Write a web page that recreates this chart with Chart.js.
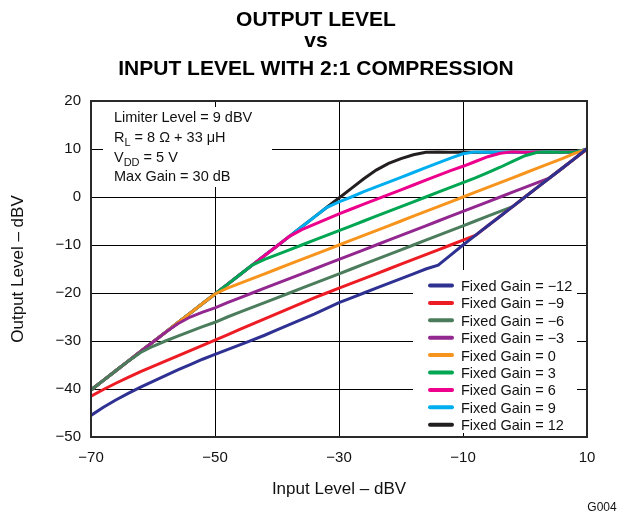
<!DOCTYPE html>
<html>
<head>
<meta charset="utf-8">
<script src="https://cdn.jsdelivr.net/npm/chart.js@4.4.1/dist/chart.umd.min.js"></script>
<style>
	html, body { margin: 0; padding: 0; background: #fff; }
	#divCanvas { width: 627px; height: 513px; }
</style>
</head>
<body>
<div id="divCanvas"><canvas id="graficoSaida" width="627" height="513"></canvas></div>
<script>
// eixo x (dBV de entrada), um ponto a cada 2 dB
var inputLevel = [-70, -68, -66, -64, -62, -60, -58, -56, -54, -52, -50, -48, -46, -44, -42, -40, -38, -36, -34, -32, -30,
	-28, -26, -24, -22, -20, -18, -16, -14, -12, -10, -8, -6, -4, -2, 0, 2, 4, 6, 8, 10];

// saida (dBV) por ganho fixo
var outGainM12 = [-45.5, -43.8, -42.3, -40.9, -39.6, -38.4, -37.2, -36.0, -34.9, -33.8, -32.8, -31.8, -30.8, -29.8, -28.8, -27.7, -26.6, -25.5, -24.4, -23.2, -22.0,
	-21.0, -20.0, -19.0, -18.0, -17.0, -16.0, -15.0, -14.2, -12.1, -10.0, -8.0, -6.0, -4.0, -2.0, 0.0, 2.0, 4.0, 6.0, 8.0, 10.1];
var outGainM9 = [-41.5, -40.1, -38.8, -37.6, -36.4, -35.3, -34.2, -33.1, -32.0, -30.9, -29.8, -28.7, -27.6, -26.5, -25.4, -24.3, -23.2, -22.1, -21.0, -20.0, -19.0,
	-18.0, -17.0, -16.0, -15.0, -14.0, -13.0, -12.0, -11.0, -10.0, -9.0, -8.0, -6.0, -4.0, -2.0, 0.0, 2.0, 4.0, 6.0, 8.0, 10.0];
var outGainM6 = [-40.2, -38.2, -36.2, -34.2, -32.4, -31.1, -30.0, -29.0, -28.0, -27.0, -26.1, -25.0, -24.0, -23.0, -22.0, -21.0, -20.0, -19.0, -18.0, -17.0, -16.0,
	-15.0, -14.0, -13.0, -12.0, -11.0, -10.0, -9.0, -8.0, -7.0, -6.0, -5.0, -4.0, -3.0, -2.0, 0.0, 2.0, 4.0, 6.0, 8.0, 10.0];
var outGainM3 = [-40.2, -38.2, -36.2, -34.2, -32.2, -30.2, -28.2, -26.4, -25.0, -24.0, -23.1, -22.0, -21.0, -20.0, -19.0, -18.0, -17.0, -16.0, -15.0, -14.0, -13.0,
	-12.0, -11.0, -10.0, -9.0, -8.0, -7.0, -6.0, -5.0, -4.0, -3.0, -2.0, -1.0, 0.0, 1.0, 2.0, 3.0, 4.0, 6.0, 8.0, 10.0];
var outGain0 = [-40.2, -38.2, -36.2, -34.2, -32.2, -30.2, -28.2, -26.2, -24.2, -22.2, -20.2, -19.0, -18.0, -17.0, -16.0, -15.0, -14.0, -13.0, -12.0, -11.0, -10.0,
	-9.0, -8.0, -7.0, -6.0, -5.0, -4.0, -3.0, -2.0, -1.0, 0.0, 1.0, 2.0, 3.0, 4.0, 5.0, 6.0, 7.0, 8.0, 9.1, 9.9];
var outGain3 = [-40.2, -38.2, -36.2, -34.2, -32.2, -30.2, -28.2, -26.2, -24.2, -22.2, -20.2, -18.2, -16.2, -14.2, -13.0, -12.0, -11.0, -10.0, -9.0, -8.0, -7.0,
	-6.0, -5.0, -4.0, -3.0, -2.0, -1.0, 0.0, 1.0, 2.0, 3.0, 4.0, 5.1, 6.2, 7.4, 8.6, 9.3, 9.4, 9.3, 9.4, 9.9];
var outGain6 = [-40.2, -38.2, -36.2, -34.2, -32.2, -30.2, -28.2, -26.2, -24.2, -22.2, -20.2, -18.2, -16.2, -14.2, -12.2, -10.2, -8.2, -6.8, -5.7, -4.6, -3.5,
	-2.5, -1.5, -0.5, 0.5, 1.5, 2.5, 3.5, 4.5, 5.5, 6.4, 7.4, 8.4, 9.1, 9.4, 9.3, 9.4, 9.3, 9.4, 9.4, 9.9];
var outGain9 = [-40.2, -38.2, -36.2, -34.2, -32.2, -30.2, -28.2, -26.2, -24.2, -22.2, -20.2, -18.2, -16.2, -14.2, -12.2, -10.2, -8.2, -6.2, -4.2, -2.2, -1.0,
	0.0, 1.1, 2.1, 3.1, 4.1, 5.1, 6.1, 7.1, 8.1, 9.0, 9.4, 9.3, 9.4, 9.3, 9.4, 9.3, 9.4, 9.3, 9.4, 9.9];
var outGain12 = [-40.2, -38.2, -36.2, -34.2, -32.2, -30.2, -28.2, -26.2, -24.2, -22.2, -20.2, -18.2, -16.2, -14.2, -12.2, -10.2, -8.2, -6.2, -4.2, -2.2, -0.2,
	1.8, 3.8, 5.6, 7.0, 8.0, 8.8, 9.3, 9.4, 9.3, 9.4, 9.3, 9.4, 9.3, 9.4, 9.3, 9.4, 9.3, 9.4, 9.4, 9.9];

var gainLabels = ["Fixed Gain = \u221212", "Fixed Gain = \u22129", "Fixed Gain = \u22126", "Fixed Gain = \u22123", "Fixed Gain = 0",
	"Fixed Gain = 3", "Fixed Gain = 6", "Fixed Gain = 9", "Fixed Gain = 12"];
var gainSeries = [outGainM12, outGainM9, outGainM6, outGainM3, outGain0, outGain3, outGain6, outGain9, outGain12];
var gainColors = ["#2e3192", "#ed1c24", "#4b7d5c", "#92278f", "#f7941d", "#00a651", "#ec008c", "#00aeef", "#231f20"];

var xTicks = [-70, -50, -30, -10, 10];
var yTicks = [-50, -40, -30, -20, -10, 0, 10, 20];

var notas = ["Limiter Level = 9 dBV", "R|L| = 8 \u03A9 + 33 \u03BCH", "V|DD| = 5 V", "Max Gain = 30 dB"];
var titulo = ["OUTPUT LEVEL", "vs", "INPUT LEVEL WITH 2:1 COMPRESSION"];

var FONTE = "'Liberation Sans', Arial, Helvetica, sans-serif";

function menos(v) {
	return v < 0 ? "\u2212" + Math.abs(v) : "" + v;
}

function montaPontos(saida) {
	var pts = [];
	for (var i = 0; i < inputLevel.length; i++) {
		pts.push({ x: inputLevel[i], y: saida[i] });
	}
	return pts;
}

var conjuntos = [];
for (var k = 0; k < gainSeries.length; k++) {
	conjuntos.push({
		label: gainLabels[k],
		data: montaPontos(gainSeries[k]),
		borderColor: gainColors[k],
		backgroundColor: gainColors[k],
		borderWidth: 3,
		pointRadius: 0,
		tension: 0,
		fill: false
	});
}

// texto com indice: "R|L| = ..." -> R com L subscrito
function textoIndice(ctx, txt, x, y) {
	var partes = txt.split("|");
	for (var i = 0; i < partes.length; i++) {
		if (i % 2 == 1) {
			ctx.font = "11px " + FONTE;
			ctx.fillText(partes[i], x, y + 4);
		} else {
			ctx.font = "14.5px " + FONTE;
			ctx.fillText(partes[i], x, y);
		}
		x += ctx.measureText(partes[i]).width;
	}
}

var decoracao = {
	id: "decoracao",
	beforeDatasetsDraw: function (chart) {
		var ctx = chart.ctx, ca = chart.chartArea;
		ctx.save();
		ctx.fillStyle = "#fff";
		// caixa das notas e caixa da legenda cobrem a grade
		ctx.fillRect(ca.left + 12, ca.top + 6, 169, 80);
		ctx.fillRect(ca.left + 322, ca.top + 169, 164, 163);
		ctx.restore();
	},
	afterDatasetsDraw: function (chart) {
		var ctx = chart.ctx, ca = chart.chartArea;
		ctx.save();
		ctx.strokeStyle = "#2a2a2a";
		ctx.lineWidth = 2;
		ctx.strokeRect(ca.left, ca.top, ca.right - ca.left, ca.bottom - ca.top);

		ctx.fillStyle = "#111";
		ctx.textBaseline = "alphabetic";
		ctx.textAlign = "left";
		var linhasY = [21, 41, 61, 80];
		for (var i = 0; i < notas.length; i++) {
			textoIndice(ctx, notas[i], ca.left + 23, ca.top + linhasY[i]);
		}

		// legenda
		var ds = chart.data.datasets;
		ctx.lineCap = "round";
		for (var j = 0; j < ds.length; j++) {
			var yy = ca.top + 184.5 + j * 17.4;
			ctx.strokeStyle = ds[j].borderColor;
			ctx.lineWidth = 4;
			ctx.beginPath();
			ctx.moveTo(ca.left + 339, yy);
			ctx.lineTo(ca.left + 361, yy);
			ctx.stroke();
			ctx.fillStyle = "#111";
			ctx.font = "14.5px " + FONTE;
			ctx.fillText(ds[j].label, ca.left + 370, yy + 5.5);
		}
		ctx.restore();
	},
	afterDraw: function (chart) {
		var ctx = chart.ctx;
		ctx.save();
		ctx.fillStyle = "#000";
		ctx.textAlign = "center";
		ctx.textBaseline = "alphabetic";
		ctx.font = "bold 21px " + FONTE;
		var bases = [26, 47, 75];
		for (var i = 0; i < titulo.length; i++) {
			ctx.fillText(titulo[i], 316, bases[i]);
		}
		ctx.font = "12px " + FONTE;
		ctx.fillStyle = "#111";
		ctx.fillText("G004", 602, 511);
		ctx.restore();
	}
};

var grafico = new Chart(document.getElementById("graficoSaida"), {
	type: "line",
	data: { datasets: conjuntos },
	plugins: [decoracao],
	options: {
		responsive: false,
		animation: false,
		layout: { padding: { top: 101, right: 40, bottom: 0, left: 0 } },
		plugins: {
			legend: { display: false },
			title: { display: false },
			tooltip: { enabled: false }
		},
		scales: {
			x: {
				type: "linear",
				min: -70,
				max: 10,
				afterBuildTicks: function (s) { s.ticks = xTicks.map(function (v) { return { value: v }; }); },
				afterFit: function (s) { s.height = 76; },
				ticks: {
					color: "#111",
					padding: 12,
					maxRotation: 0,
					autoSkip: false,
					font: { family: FONTE, size: 15 },
					callback: function (v) { return menos(v); }
				},
				grid: { color: "#000", lineWidth: 1, drawTicks: false },
				border: { display: false },
				title: {
					display: true,
					text: "Input Level \u2013 dBV",
					color: "#111",
					font: { family: FONTE, size: 17 },
					padding: { top: 0, bottom: 13 }
				}
			},
			y: {
				min: -50,
				max: 20,
				afterBuildTicks: function (s) { s.ticks = yTicks.map(function (v) { return { value: v }; }); },
				afterFit: function (s) { s.width = 91; },
				ticks: {
					color: "#111",
					padding: 10,
					font: { family: FONTE, size: 15 },
					callback: function (v) { return menos(v); }
				},
				grid: { color: "#000", lineWidth: 1, drawTicks: false },
				border: { display: false },
				title: {
					display: true,
					text: "Output Level \u2013 dBV",
					color: "#111",
					font: { family: FONTE, size: 17 },
					padding: { top: 8, bottom: 0 }
				}
			}
		}
	}
});
</script>
</body>
</html>
